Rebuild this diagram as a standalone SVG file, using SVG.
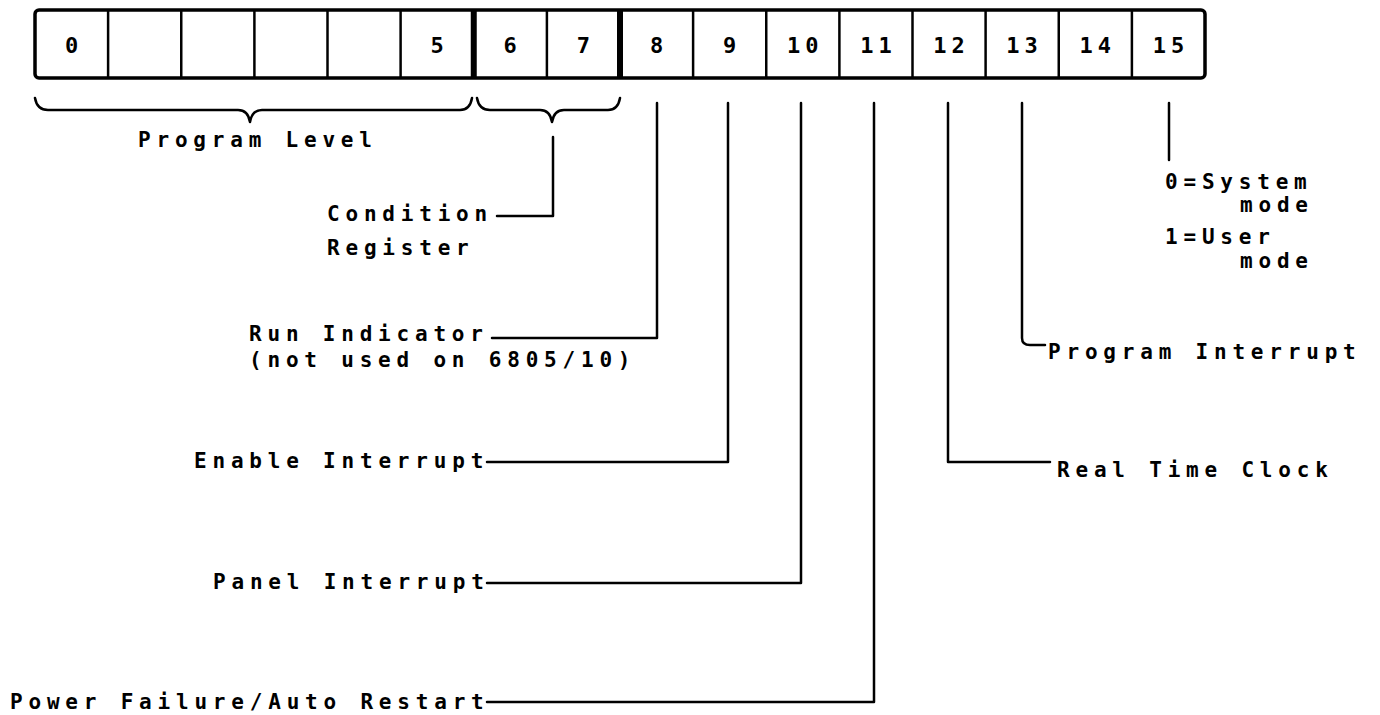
<svg xmlns="http://www.w3.org/2000/svg" width="1380" height="715" viewBox="0 0 1380 715">
<style>
text{font-family:"DejaVu Sans Mono","Liberation Mono",monospace;font-weight:bold;font-size:21px;letter-spacing:5.8px;fill:#000}
.num{text-anchor:middle;font-size:22px;letter-spacing:5px}
.cell{fill:none;stroke:#000;stroke-width:2.5}
.thick{stroke:#000;stroke-width:6}
.ln{fill:none;stroke:#000;stroke-width:2.5;stroke-linejoin:round;stroke-linecap:round}
</style>
<rect width="1380" height="715" fill="#fff"/>
<g id="register">
<rect x="35" y="10" width="1170" height="68" rx="4" fill="none" stroke="#000" stroke-width="3.5"/>
<g id="bit0"><line class="cell" x1="108.1" y1="10" x2="108.1" y2="78"/><text class="num" x="74" y="53">0</text></g>
<g id="bit1"><line class="cell" x1="181.25" y1="10" x2="181.25" y2="78"/></g>
<g id="bit2"><line class="cell" x1="254.4" y1="10" x2="254.4" y2="78"/></g>
<g id="bit3"><line class="cell" x1="327.5" y1="10" x2="327.5" y2="78"/></g>
<g id="bit4"><line class="cell" x1="400.6" y1="10" x2="400.6" y2="78"/></g>
<g id="bit5"><line class="thick" x1="473.75" y1="10" x2="473.75" y2="78"/><text class="num" x="439.5" y="53">5</text></g>
<g id="bit6"><line class="cell" x1="546.9" y1="10" x2="546.9" y2="78"/><text class="num" x="512.6" y="53">6</text></g>
<g id="bit7"><line class="thick" x1="620" y1="10" x2="620" y2="78"/><text class="num" x="585.8" y="53">7</text></g>
<g id="bit8"><line class="cell" x1="693.1" y1="10" x2="693.1" y2="78"/><text class="num" x="659" y="53">8</text></g>
<g id="bit9"><line class="cell" x1="766.25" y1="10" x2="766.25" y2="78"/><text class="num" x="732.1" y="53">9</text></g>
<g id="bit10"><line class="cell" x1="839.4" y1="10" x2="839.4" y2="78"/><text class="num" x="805.3" y="53">10</text></g>
<g id="bit11"><line class="cell" x1="912.5" y1="10" x2="912.5" y2="78"/><text class="num" x="878.4" y="53">11</text></g>
<g id="bit12"><line class="cell" x1="985.6" y1="10" x2="985.6" y2="78"/><text class="num" x="951.5" y="53">12</text></g>
<g id="bit13"><line class="cell" x1="1058.75" y1="10" x2="1058.75" y2="78"/><text class="num" x="1024.6" y="53">13</text></g>
<g id="bit14"><line class="cell" x1="1131.9" y1="10" x2="1131.9" y2="78"/><text class="num" x="1097.8" y="53">14</text></g>
<g id="bit15"><text class="num" x="1171" y="53">15</text></g>
</g>
<g id="connectors">
<path class="ln" d="M35,98 Q37,110 48,110 L238,110 Q248,110 250,122 Q252,110 262,110 L460,110 Q470,110 472,98"/>
<path class="ln" d="M477,98 Q479,110 490,110 L540,110 Q550,110 552,122 Q554,110 564,110 L608,110 Q618,110 620,98"/>
<path class="ln" d="M553,137 V216 H497"/>
<path class="ln" d="M657,103 V338 H492"/>
<path class="ln" d="M728,103 V462 H487"/>
<path class="ln" d="M801,103 V583 H487"/>
<path class="ln" d="M874,103 V702 H487"/>
<path class="ln" d="M948,103 V462 H1050"/>
<path class="ln" d="M1022,103 V338 Q1022,345 1030,345 H1045"/>
<path class="ln" d="M1169,103 V160"/>
</g>
<g id="program-level"><text x="138" y="147">Program Level</text></g>
<g id="condition-register"><text x="327" y="221">Condition</text><text x="327" y="255">Register</text></g>
<g id="run-indicator"><text x="249" y="341">Run Indicator</text><text x="249" y="367">(not used on 6805/10)</text></g>
<g id="enable-interrupt"><text x="194" y="468">Enable Interrupt</text></g>
<g id="panel-interrupt"><text x="213" y="589">Panel Interrupt</text></g>
<g id="power-failure"><text x="10" y="709">Power Failure/Auto Restart</text></g>
<g id="real-time-clock"><text x="1057" y="477">Real Time Clock</text></g>
<g id="program-interrupt"><text x="1048" y="359">Program Interrupt</text></g>
<g id="mode"><text x="1165" y="189">0=System</text><text x="1240" y="212">mode</text><text x="1165" y="244">1=User</text><text x="1240" y="268">mode</text></g>
</svg>
